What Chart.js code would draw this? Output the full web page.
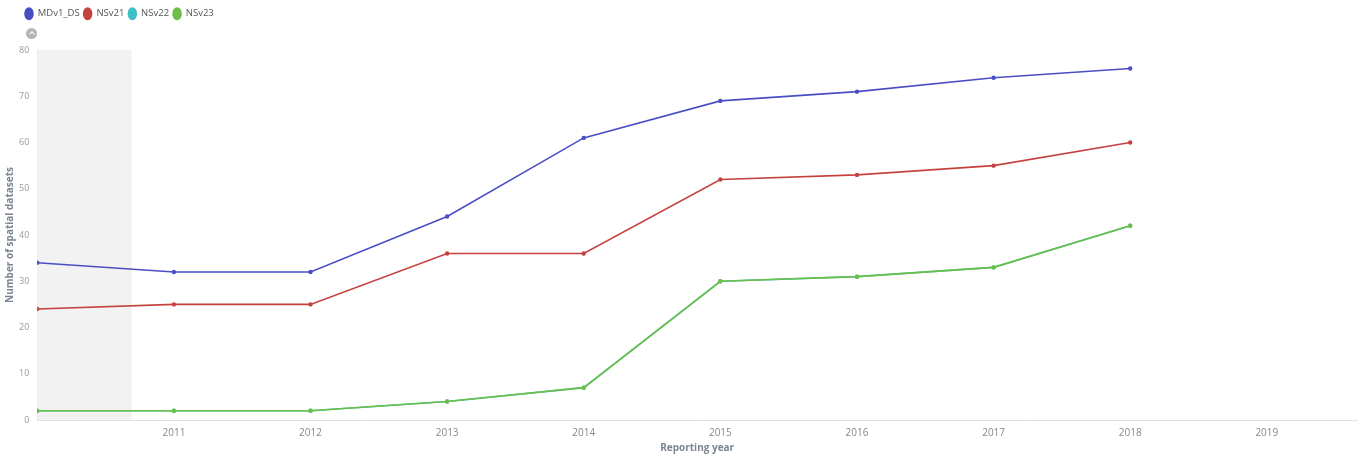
<!DOCTYPE html>
<html>
<head>
<meta charset="utf-8">
<script src="https://cdn.jsdelivr.net/npm/chart.js@4.4.1/dist/chart.umd.min.js"></script>
<style>
  html, body { margin: 0; padding: 0; background: #fff; }
  #wrap { position: relative; width: 1367px; height: 457px; }
  #toggle {
    position: absolute; left: 26px; top: 28px; width: 11px; height: 11px;
    border-radius: 50%; background: #b5b5b5;
  }
  #toggle:after {
    content: ""; position: absolute; left: 3.5px; top: 4px; width: 3px; height: 3px;
    border-left: 1.4px solid #fff; border-top: 1.4px solid #fff; transform: rotate(45deg);
  }
</style>
</head>
<body>
<div id="wrap">
  <canvas id="grafico" width="1367" height="457"></canvas>
  <div id="toggle"></div>
</div>
<script>
const anos = [2010, 2011, 2012, 2013, 2014, 2015, 2016, 2017, 2018];
const mdv1 = [34, 32, 32, 44, 61, 69, 71, 74, 76];
const nsv21 = [24, 25, 25, 36, 36, 52, 53, 55, 60];
const nsv22 = [2, 2, 2, 4, 7, 30, 31, 33, 42];
const nsv23 = [2, 2, 2, 4, 7, 30, 31, 33, 42];
const faixaCinza = [2010, 2010.69];

function pontos(valores) {
  return anos.map((a, i) => ({ x: a, y: valores[i] }));
}

// faixa cinza no inicio do eixo
const pluginFaixa = {
  id: "faixa",
  beforeDatasetsDraw(chart) {
    const { ctx, chartArea, scales } = chart;
    const x0 = scales.x.getPixelForValue(faixaCinza[0]);
    const x1 = scales.x.getPixelForValue(faixaCinza[1]);
    ctx.save();
    ctx.fillStyle = "#f2f2f2";
    ctx.fillRect(x0, chartArea.top, x1 - x0, chartArea.bottom - chartArea.top);
    ctx.restore();
  },
};

// altura e posicao da legenda
const pluginLegenda = {
  id: "legendaAltura",
  beforeInit(chart) {
    const fit = chart.legend.fit;
    chart.legend.fit = function () {
      fit.bind(chart.legend)();
      this.height = 50;
    };
  },
  afterLayout(chart) {
    chart.legend.left += 21;
    chart.legend.top += 5;
  },
};

function serie(label, valores, cor) {
  return {
    label,
    data: pontos(valores),
    borderColor: cor,
    backgroundColor: cor,
    borderWidth: 1.6,
    pointRadius: 1.4,
    pointHoverRadius: 3,
    tension: 0,
  };
}

Chart.defaults.font.family = "'Open Sans', sans-serif";

new Chart(document.getElementById("grafico").getContext("2d"), {
  type: "line",
  data: {
    datasets: [
      serie("MDv1_DS", mdv1, "#4a4ec4"),
      serie("NSv21", nsv21, "#c4423f"),
      serie("NSv22", nsv22, "#3fbfc6"),
      serie("NSv23", nsv23, "#6cbf48"),
    ].map((d, i) => ({ ...d, order: 4 - i })),
  },
  plugins: [pluginFaixa, pluginLegenda],
  options: {
    responsive: false,
    animation: false,
    layout: { padding: { top: 0, right: 10, left: 0, bottom: 3 } },
    plugins: {
      legend: {
        position: "top",
        align: "start",
        labels: {
          usePointStyle: true,
          pointStyle: "circle",
          pointStyleWidth: 8,
          boxWidth: 8,
          boxHeight: 8,
          padding: 4,
          color: "#555",
          font: { size: 9.5 },
          sort: (a, b) => a.datasetIndex - b.datasetIndex,
        },
      },
      tooltip: { enabled: true },
    },
    scales: {
      x: {
        type: "linear",
        min: 2010,
        max: 2019.66,
        grid: { display: false, drawTicks: true, tickLength: 5, color: "#ddd" },
        border: { color: "#e0e0e0" },
        ticks: {
          stepSize: 1,
          color: "#888",
          font: { size: 10 },
          padding: 2,
          maxRotation: 0,
          callback: (v) => (Number.isInteger(v) && v > 2010 ? String(v) : ""),
        },
        title: {
          display: true,
          text: "Reporting year",
          color: "#7b8494",
          font: { size: 10, weight: "bold" },
          padding: { top: 1, bottom: 0 },
        },
      },
      y: {
        min: 0,
        max: 80,
        grid: { display: false, drawTicks: true, tickLength: 5, color: "#ddd" },
        border: { color: "#e0e0e0" },
        ticks: {
          stepSize: 10,
          color: "#999",
          font: { size: 9 },
          padding: 3,
        },
        title: {
          display: true,
          text: "Number of spatial datasets",
          color: "#7b8494",
          font: { size: 10, weight: "bold" },
          padding: { bottom: 0 },
        },
      },
    },
  },
});
</script>
</body>
</html>
